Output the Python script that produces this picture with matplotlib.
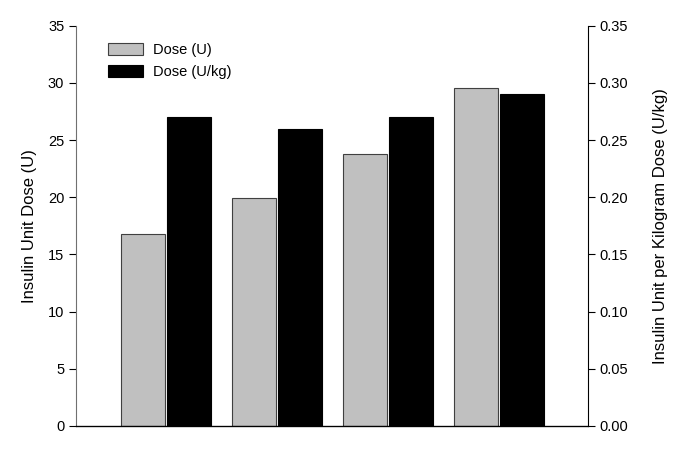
import numpy as np
import matplotlib.pyplot as plt

plt.rcParams['font.family'] = ['Liberation Sans', 'DejaVu Sans']

# bar values
groups = [1, 2, 3, 4]
dose_u = [16.8, 19.95, 23.8, 29.6]
dose_ukg = [0.27, 0.26, 0.27, 0.29]
left_ticks = [0, 5, 10, 15, 20, 25, 30, 35]
right_ticks = [0.00, 0.05, 0.10, 0.15, 0.20, 0.25, 0.30, 0.35]

x = np.arange(len(groups))
w = 0.395

fig = plt.figure(figsize=(6.85, 4.61), dpi=100)
ax = fig.add_axes([0.111, 0.076, 0.747, 0.868])
ax2 = ax.twinx()

ax.bar(x - 0.205, dose_u, w, color='#c0c0c0', edgecolor='#404040', linewidth=0.8,
       label='Dose (U)')
ax2.bar(x + 0.205, dose_ukg, w, color='black', edgecolor='black', linewidth=0.8,
        label='Dose (U/kg)')

ax.set_xlim(-0.81, 3.8)
ax.set_ylim(0, 35)
ax2.set_ylim(0, 0.35)
ax.set_yticks(left_ticks)
ax2.set_yticks(right_ticks)
ax2.set_yticklabels(['%.2f' % v for v in right_ticks])
ax.set_xticks([])

for a in (ax, ax2):
    a.spines['top'].set_visible(False)
    a.tick_params(axis='y', direction='out', length=5, width=0.8, labelsize=10.5)
ax.spines['right'].set_visible(False)
ax2.spines['left'].set_visible(False)
ax.spines['left'].set_color('#707070')
ax.spines['bottom'].set_linewidth(0.9)

ax.set_ylabel('Insulin Unit Dose (U)', fontsize=12, labelpad=8)
ax2.set_ylabel('Insulin Unit per Kilogram Dose (U/kg)', fontsize=12, labelpad=18)

h1, l1 = ax.get_legend_handles_labels()
h2, l2 = ax2.get_legend_handles_labels()
ax2.legend(h1 + h2, l1 + l2, loc='upper left', bbox_to_anchor=(0.036, 0.99),
           frameon=False, fontsize=10.5, handlelength=2.4, handleheight=0.9,
           handletextpad=0.7, labelspacing=0.55)

plt.savefig('out.png', dpi=100)
